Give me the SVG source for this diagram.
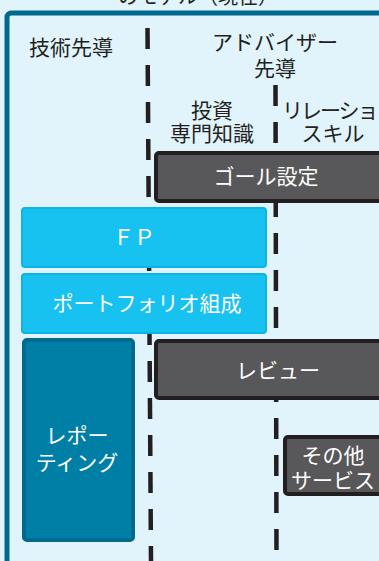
<svg xmlns="http://www.w3.org/2000/svg" width="379" height="561" viewBox="0 0 379 561">
<style>
text{font-family:"Noto Sans CJK JP","Noto Sans",sans-serif;font-size:21px}
.lbl{fill:#231f20}
.w{fill:#ffffff;text-anchor:middle}
.c{text-anchor:middle}
.dash{stroke:#231f20;stroke-width:4.5;stroke-dasharray:21 16;fill:none}
.dark{fill:#58585a;stroke:#231f20;stroke-width:4}
.cyan{fill:#17c1f0;stroke:#0db3e8;stroke-width:2}
.teal{fill:#007fa6;stroke:#006a8e;stroke-width:4}
</style>
<rect x="0" y="0" width="379" height="561" fill="#e1f3fb"/>
<text class="lbl" x="118" y="4" style="font-size:20px">のモデル（現在）</text>
<rect x="7" y="13" width="400" height="580" rx="4" fill="none" stroke="#00698f" stroke-width="5"/>
<g id="headers">
<text class="lbl" x="29" y="55">技術先導</text>
<text class="lbl c" x="275" y="50">アドバイザー</text>
<text class="lbl c" x="275" y="76">先導</text>
<text class="lbl c" x="212" y="118">投資</text>
<text class="lbl c" x="212" y="141">専門知識</text>
<text class="lbl" x="282" y="118" style="letter-spacing:-2px">リレーション</text>
<text class="lbl c" x="333" y="141">スキル</text>
</g>
<g id="connectors">
<line class="dash" x1="147.5" y1="28" x2="151" y2="561"/>
<line class="dash" x1="275.5" y1="85" x2="276.5" y2="561"/>
</g>
<g id="goal">
<rect class="dark" x="156" y="153" width="240" height="48" rx="3"/>
<text class="w" x="266" y="184">ゴール設定</text>
</g>
<g id="fp">
<rect class="cyan" x="22" y="208" width="244" height="59" rx="3"/>
<text class="w" x="134" y="245">ＦＰ</text>
</g>
<g id="portfolio">
<rect class="cyan" x="22" y="274" width="244" height="59" rx="3"/>
<text class="w" x="147" y="311">ポートフォリオ組成</text>
</g>
<g id="reporting">
<rect class="teal" x="24" y="340" width="109" height="200" rx="3"/>
<text class="w" x="77" y="443">レポー</text>
<text class="w" x="77" y="470">ティング</text>
</g>
<g id="review">
<rect class="dark" x="156" y="341" width="240" height="57" rx="3"/>
<text class="w" x="278" y="378">レビュー</text>
</g>
<g id="other">
<rect class="dark" x="285" y="437" width="120" height="57" rx="3"/>
<text class="w" x="333" y="463">その他</text>
<text class="w" x="333" y="488">サービス</text>
</g>
</svg>
